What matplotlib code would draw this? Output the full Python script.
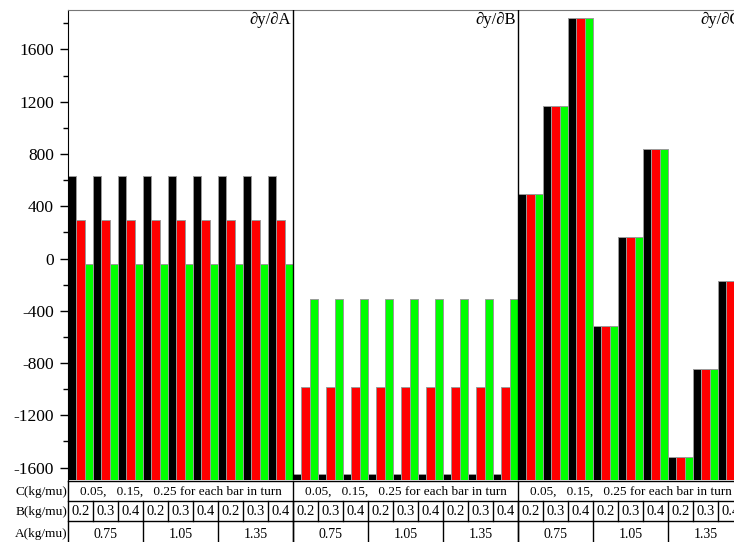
"""Sensitivity bars for dy/dA, dy/dB, dy/dC with a factor table underneath."""
import matplotlib

matplotlib.use("Agg")
import matplotlib.pyplot as plt  # noqa: E402

plt.rcParams["font.family"] = ["Liberation Serif", "DejaVu Serif"]
plt.rcParams["axes.unicode_minus"] = False

PANELS = ["∂y/∂A", "∂y/∂B", "∂y/∂C"]
A_LEVELS = ["0.75", "1.05", "1.35"]
B_LEVELS = ["0.2", "0.3", "0.4"]
C_NOTE = "0.05,   0.15,   0.25 for each bar in turn"
ROW_LABELS = ["C(kg/mu)", "B(kg/mu)", "A(kg/mu)"]

# one list per panel and C level (C = 0.05, 0.15, 0.25), 9 (A, B) groups each
dyda_c005 = [630, 630, 630, 630, 630, 630, 630, 630, 630]
dyda_c015 = [293, 293, 293, 293, 293, 293, 293, 293, 293]
dyda_c025 = [-44, -44, -44, -44, -44, -44, -44, -44, -44]
dydb_c005 = [-1650, -1650, -1650, -1650, -1650, -1650, -1650, -1650, -1650]
dydb_c015 = [-982, -982, -982, -982, -982, -982, -982, -982, -982]
dydb_c025 = [-311, -311, -311, -311, -311, -311, -311, -311, -311]
dydc_c005 = [492, 1167, 1842, -515, 163, 836, -1520, -846, -173]
dydc_c015 = [492, 1167, 1842, -515, 163, 836, -1520, -846, -173]
dydc_c025 = [492, 1167, 1842, -515, 163, 836, -1520, -846, -173]

SERIES = [
    [dyda_c005, dyda_c015, dyda_c025],
    [dydb_c005, dydb_c015, dydb_c025],
    [dydc_c005, dydc_c015, dydc_c025],
]
COLORS = ["#000000", "#ff0000", "#00ff00"]

Y0, Y1 = -1695, 1902
W, H = 734, 542

fig = plt.figure(figsize=(W / 100, H / 100), dpi=100)
# axes runs past the right edge of the figure, like the original crop
ax = fig.add_axes([68 / W, 62 / H, 675 / W, 470 / H])

for p, panel in enumerate(SERIES):
    for k, vals in enumerate(panel):
        xs = [p * 27 + g * 3 + k for g in range(len(vals))]
        ax.bar(xs, [v - Y0 for v in vals], bottom=Y0, width=1.0,
               color=COLORS[k], edgecolor="#9a9a9a", linewidth=0.7, zorder=2)
    ax.text(p * 27 + 26.3, 0.995, PANELS[p], transform=ax.get_xaxis_transform(),
            ha="right", va="top", fontsize=12)

for xb in (26.5, 53.5):
    ax.axvline(xb, color="black", lw=1.0, zorder=3)

ax.set_xlim(-0.5, 80.5)
ax.set_ylim(Y0, Y1)
ax.set_xticks([])
ax.set_yticks(range(-1600, 1601, 400))
ax.set_yticks(range(-1600, 1801, 200), minor=True)
ax.tick_params(axis="y", which="major", length=6, width=1, labelsize=12.5, pad=4)
ax.tick_params(axis="y", which="minor", length=3.5, width=1)
ax.spines["top"].set_color("#777777")
ax.spines["bottom"].set_visible(False)
ax.spines["right"].set_visible(False)

# factor table below the bars (y in pixels from the table top, pointing down)
tax = fig.add_axes([68 / W, -20 / H, 675 / W, 81 / H])
tax.set_xlim(-0.5, 80.5)
tax.set_ylim(81, 0)
tax.axis("off")

lk = dict(color="black", lw=1.0, clip_on=False)
for yl in (0, 20, 40):
    tax.plot([-0.5, 80.5], [yl, yl], **lk)
tax.plot([-0.5, -0.5], [0, 81], **lk)
for p in range(3):
    tax.plot([p * 27 + 26.5] * 2, [0, 81], **lk)
    tax.text(p * 27 + 13, 11, C_NOTE, ha="center", va="center", fontsize=9.5)
    for a in range(3):
        x0 = p * 27 + a * 9 - 0.5
        tax.plot([x0 + 9] * 2, [40, 81], **lk)
        tax.text(x0 + 4.5, 53, A_LEVELS[a], ha="center", va="center", fontsize=10)
        for b in range(3):
            xb = x0 + b * 3
            tax.plot([xb + 3] * 2, [20, 40], **lk)
            tax.text(xb + 1.5, 30.5, B_LEVELS[b], ha="center", va="center",
                     fontsize=10.5)

for yl, lab in zip((11, 30.5, 53), ROW_LABELS):
    tax.text(-0.6, yl, lab, ha="right", va="center", fontsize=9.5)

fig.savefig("out.png", dpi=100)
